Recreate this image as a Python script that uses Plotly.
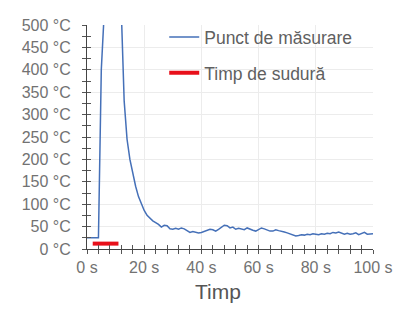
import plotly.graph_objects as go

# Data
time_s = list(range(0, 101))
temp_c = [25, 25, 25, 25, 25, 400, 650, 800, 880, 900,
          850, 700, 530, 330, 245, 200, 168, 140, 117, 100,
          86, 75, 68, 63, 59, 55, 49, 53, 52, 45,
          44, 46, 44, 47, 45, 40, 37, 39, 38, 36,
          37, 39, 42, 44, 43, 40, 44, 48, 53, 52,
          47, 49, 44, 46, 45, 43, 47, 44, 42, 40,
          44, 47, 45, 42, 40, 40, 43, 41, 40, 38,
          36, 34, 31, 29, 30, 32, 31, 33, 32, 34,
          33, 32, 34, 33, 35, 34, 37, 36, 38, 35,
          33, 35, 33, 34, 36, 32, 35, 37, 33, 33, 34]
weld_time = [2, 11]
weld_level = [12, 12]

x_ticks = [0, 20, 40, 60, 80, 100]
x_labels = ["0 s", "20 s", "40 s", "60 s", "80 s", "100 s"]
y_ticks = [0, 50, 100, 150, 200, 250, 300, 350, 400, 450, 500]
y_labels = [f"{v} °C" for v in y_ticks]

FONT = "Liberation Sans, Arial, sans-serif"
TICKC = "#555555"
LABELC = "#727272"

fig = go.Figure()
fig.add_trace(go.Scatter(x=time_s, y=temp_c, mode="lines", name="Punct de măsurare",
                         line=dict(color="#4570b8", width=1.5), legendgroup="a"))
fig.add_trace(go.Scatter(x=weld_time, y=weld_level, mode="lines", name="Timp de sudură",
                         line=dict(color="#e8101a", width=4), legendgroup="b"))
# dummy trace for inward tick overlay axes
fig.add_trace(go.Scatter(x=[], y=[], xaxis="x2", yaxis="y2", showlegend=False))

common_x = dict(range=[0, 100], tickmode="array", tickvals=x_ticks)
common_y = dict(range=[0, 500], tickmode="array", tickvals=y_ticks)

fig.update_layout(
    width=396, height=305,
    margin=dict(l=79, r=31, t=9, b=64),
    paper_bgcolor="white", plot_bgcolor="white",
    font=dict(family=FONT, color=LABELC),
    showlegend=True,
    legend=dict(x=0.27, y=1.026, xanchor="left", yanchor="top",
                font=dict(size=17.5, color="#606060"), bgcolor="rgba(0,0,0,0)",
                tracegroupgap=10),
    xaxis=dict(**common_x, ticktext=x_labels, ticks="outside", ticklen=4, tickwidth=1,
               tickcolor=TICKC, showline=True, linecolor="#444444", linewidth=1,
               showgrid=True, gridcolor="#ececec", zeroline=False,
               minor=dict(dtick=4, ticks="outside", ticklen=4, tickcolor=TICKC, showgrid=False),
               tickfont=dict(size=16, color=LABELC), ticklabelstandoff=0),
    yaxis=dict(**common_y, ticktext=y_labels, ticks="outside", ticklen=4, tickwidth=1,
               tickcolor=TICKC, showline=True, linecolor="#444444", linewidth=1,
               showgrid=True, gridcolor="#ececec", zeroline=False,
               minor=dict(dtick=25, ticks="outside", ticklen=4, tickcolor=TICKC, showgrid=False),
               tickfont=dict(size=16, color=LABELC), ticklabelstandoff=8),
    xaxis2=dict(**common_x, overlaying="x", anchor="y2", side="bottom", ticks="inside",
                ticklen=4, tickcolor=TICKC, showticklabels=False, showgrid=False,
                showline=False, zeroline=False,
                minor=dict(dtick=4, ticks="inside", ticklen=4, tickcolor=TICKC, showgrid=False)),
    yaxis2=dict(**common_y, overlaying="y", anchor="x2", side="left", ticks="inside",
                ticklen=4, tickcolor=TICKC, showticklabels=False, showgrid=False,
                showline=False, zeroline=False,
                minor=dict(dtick=25, ticks="inside", ticklen=4, tickcolor=TICKC, showgrid=False)),
    annotations=[dict(text="Timp", xref="paper", yref="paper", x=0.458, y=-0.19,
                      xanchor="center", yanchor="middle", showarrow=False,
                      font=dict(size=21, color="#555555", family=FONT))],
)

fig.write_html("out.html")
